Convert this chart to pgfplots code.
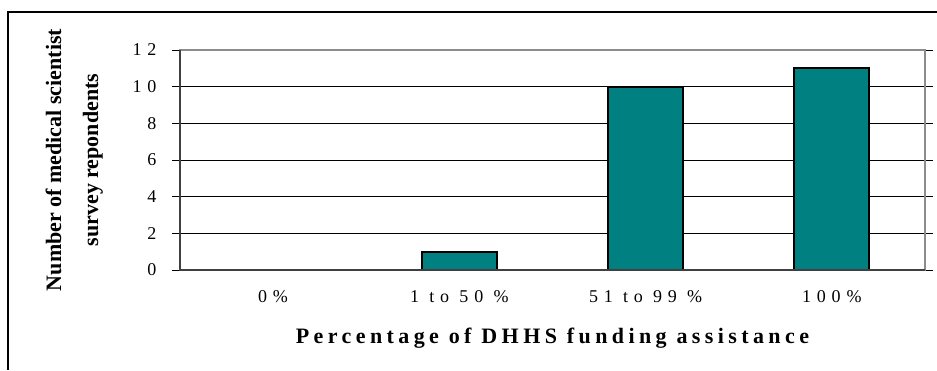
\documentclass[border=0pt]{standalone}
\usepackage{fontspec}
\setmainfont{Liberation Serif}
\newfontfamily\trackedfont[LetterSpace=32]{Liberation Serif}
\newfontfamily\trackedboldfont[LetterSpace=20]{Liberation Serif Bold}
\usepackage{pgfplots}
\pgfplotsset{compat=1.18}
\definecolor{barteal}{HTML}{008080}
\definecolor{frame}{HTML}{8C8C8C}
\definecolor{axisdark}{HTML}{404040}

\begin{document}
\begin{tikzpicture}[x=1pt,y=1pt]
\useasboundingbox (0,0) rectangle (937,370);
% outer chart frame
\draw[line width=1.2pt] (8,0) -- (8,358) -- (937,358);
\begin{axis}[
  at={(180pt,100pt)}, anchor=south west,
  scale only axis, width=745pt, height=220pt,
  xmin=-0.5, xmax=3.5, ymin=0, ymax=12,
  ytick={0,2,...,12},
  xtick={0,1,2,3},
  xticklabels={0\%, 1 to 50 \%, 51 to 99 \%, 100\%},
  major x tick style={draw=none},
  extra x ticks={-0.5,0.5,1.5,2.5,3.5},
  extra x tick labels={},
  extra x tick style={major tick length=8pt, tick style={black, line width=0.8pt}},
  tick align=outside,
  major tick length=8pt,
  y tick style={black, line width=0.8pt},
  ymajorgrids, grid style={black, line width=0.8pt},
  axis line style={frame, line width=2pt},
  /pgf/number format/assume math mode=true,
  tick label style={font=\trackedfont\fontsize{18}{21}\selectfont},
  xticklabel style={yshift=-9pt},
  yticklabel style={xshift=-12pt},
  xlabel={Percentage of DHHS funding assistance},
  xlabel style={font=\trackedboldfont\fontsize{22}{25}\selectfont, at={(axis description cs:0.5,0)}, anchor=center, yshift=-68pt},
  ylabel={Number of medical scientist\\survey repondents},
  ylabel style={font=\bfseries\fontsize{22}{37}\selectfont, align=center, at={(axis description cs:-0.142,0.5)}, anchor=center},
  clip=false,
]
\addplot[ybar, bar width=75pt, fill=barteal, draw=black, line width=2pt]
  coordinates {(0,0) (1,1) (2,10) (3,11)};
\draw[axisdark, line width=2.2pt] (rel axis cs:0,1) -- (rel axis cs:0,0) -- (rel axis cs:1,0);
\end{axis}
\end{tikzpicture}
\end{document}
